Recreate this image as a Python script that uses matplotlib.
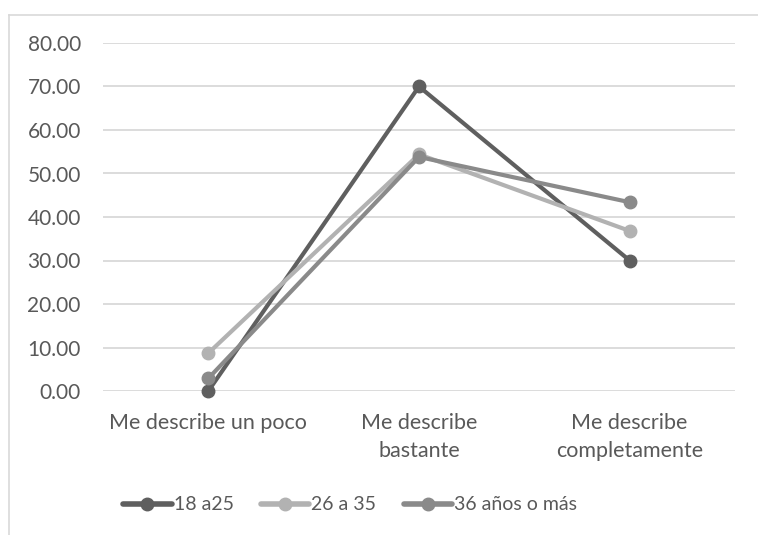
import matplotlib.pyplot as plt
from matplotlib.lines import Line2D

plt.rcParams['font.family'] = ['Lato', 'DejaVu Sans']

categories = ['Me describe un poco', 'Me describe\nbastante', 'Me describe\ncompletamente']
series_names = ['18 a25', '26 a 35', '36 años o más']
vals_18_25 = [0.0, 70.0, 30.0]
vals_26_35 = [8.7, 54.4, 36.8]
vals_36_mas = [2.9, 53.8, 43.4]
yticks = [0, 10, 20, 30, 40, 50, 60, 70, 80]

colors = ['#5f5f5f', '#b2b2b2', '#8a8a8a']
text_color = '#595959'

fig = plt.figure(figsize=(7.58, 5.35), dpi=100)
ax = fig.add_axes([103 / 758, (535 - 391) / 535, 632 / 758, 348 / 535])

x = range(len(categories))
for vals, name, c in zip([vals_18_25, vals_26_35, vals_36_mas], series_names, colors):
    ax.plot(x, vals, color=c, linewidth=3, marker='o', markersize=9,
            label=name, solid_capstyle='round', zorder=3, clip_on=False)

ax.set_xlim(-0.5, 2.5)
ax.set_ylim(0, 80)
ax.set_yticks(yticks)
ax.set_yticklabels([f'{v:.2f}' for v in yticks], fontsize=15, color=text_color)
ax.set_xticks(list(x))
ax.set_xticklabels(categories, fontsize=15.5, color=text_color, linespacing=1.5)
ax.tick_params(length=0)
ax.tick_params(axis='y', pad=16)
ax.tick_params(axis='x', pad=16)
ax.grid(axis='y', color='#d9d9d9', linewidth=1.3, zorder=0)
for s in ax.spines.values():
    s.set_visible(False)
ax.set_axisbelow(True)

# chart-area border (top and left edges)
fig.add_artist(Line2D([9 / 758, 1.0], [1 - 15 / 535, 1 - 15 / 535],
                      transform=fig.transFigure, color='#d9d9d9', linewidth=1.2))
fig.add_artist(Line2D([9 / 758, 9 / 758], [0, 1 - 15 / 535],
                      transform=fig.transFigure, color='#d9d9d9', linewidth=1.2))

leg = fig.legend(loc='center', bbox_to_anchor=(350 / 758, 1 - 505 / 535), ncol=3,
                 frameon=False, fontsize=14, handlelength=2.5, handletextpad=0.1,
                 columnspacing=1.4)
for t in leg.get_texts():
    t.set_color(text_color)
for h in leg.legend_handles:
    h.set_linewidth(4)

fig.savefig('out.png', dpi=100)
